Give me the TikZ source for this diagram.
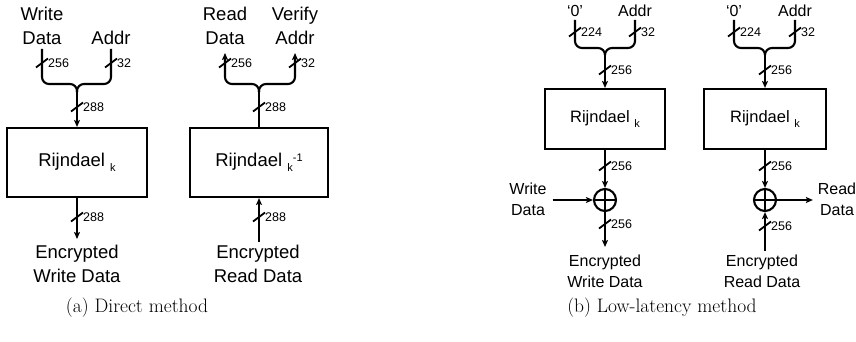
\documentclass[tikz,border=0pt]{standalone}
\usepackage{fontspec}
\newfontfamily\arial{Liberation Sans}
\usetikzlibrary{arrows.meta}

\tikzset{
  wire/.style={line width=2.1pt},
  sig/.style={wire, -{Stealth[length=7pt,width=6pt,inset=1.5pt]}},
  fork/.style={wire, rounded corners=7pt},
  lbl/.style={font=\arial\fontsize{18.5}{24.5}\selectfont, align=center, inner sep=0pt, outer sep=4pt},
  lblb/.style={font=\arial\fontsize{16}{21}\selectfont, align=center, inner sep=0pt, outer sep=4pt},
  block/.style={draw, line width=2.1pt, inner sep=0pt},
  xor/.style={circle, draw, line width=2.1pt, minimum size=22pt, inner sep=0pt},
  buswidth/.style={font=\arial\fontsize{12.5}{14}\selectfont, inner sep=0pt, anchor=west},
  caption/.style={font=\fontsize{19.5}{23}\selectfont, inner sep=0pt},
  busmark/.pic={\draw[line width=1.8pt] (-6,4.5) -- (6,-4.5); \node[buswidth] at (6,0) {#1};}
}
\newcommand{\keysub}[1]{\raisebox{-5pt}{\fontsize{11}{11}\selectfont #1}}
\newcommand{\keysup}[1]{\raisebox{5pt}{\fontsize{11}{11}\selectfont #1}}

\begin{document}
\begin{tikzpicture}[x=1pt,y=-1pt]
\useasboundingbox (0,0) rectangle (856,342);

% ---------------- (a) Direct method: write path ----------------
\node[lbl, anchor=south] (wdA) at (42,49) {Write\\Data};
\node[lbl, anchor=south] (adA) at (111,49) {Addr};
\coordinate (hA) at (77,84);
\coordinate (mA) at (77,92);
\node[block, minimum width=140pt, minimum height=69pt, font=\arial\fontsize{18.5}{22}\selectfont]
  (rA1) at (77,162.5) {Rijndael\ \keysub{k}};
\node[lbl, anchor=north, outer ysep=6pt] (encA) at (77,239) {Encrypted\\Write Data};

\draw[fork] (wdA.south) |- (hA) -- (mA);
\draw[fork] (adA.south) |- (hA) -- (mA);
\draw[sig] (mA) -- (rA1.north);
\draw[sig] (rA1.south) -- (encA.north);
\pic at (42,63) {busmark=256};
\pic at (111,63) {busmark=32};
\pic at (77,107) {busmark=288};
\pic at (77,217) {busmark=288};

% ---------------- (a) Direct method: read path ----------------
\node[lbl, anchor=south, outer ysep=8pt] (rdA) at (225,53) {Read\\Data};
\node[lbl, anchor=south, outer ysep=8pt] (vaA) at (295,53) {Verify\\Addr};
\coordinate (hA2) at (259,84);
\coordinate (mA2) at (259,92);
\node[block, minimum width=138pt, minimum height=69pt, font=\arial\fontsize{18.5}{22}\selectfont]
  (rA2) at (259,162.5) {Rijndael\ \keysub{k}\keysup{-1}};
\node[lbl, anchor=north, outer ysep=3pt] (encB) at (258,242) {Encrypted\\Read Data};

\draw[wire] (rA2.north) -- (mA2);
\draw[sig, rounded corners=7pt] (mA2) -- (hA2) -| (rdA.south);
\draw[sig, rounded corners=7pt] (mA2) -- (hA2) -| (vaA.south);
\draw[sig] (encB.north -| rA2.south) -- (rA2.south);
\pic at (225,63) {busmark=256};
\pic at (295,63) {busmark=32};
\pic at (259,107) {busmark=288};
\pic at (259,217) {busmark=288};

% ---------------- (b) Low-latency method: write path ----------------
\node[lblb, anchor=south, outer ysep=3pt] (zB1) at (575,20) {‘0’};
\node[lblb, anchor=south, outer ysep=3pt] (adB1) at (635,20) {Addr};
\coordinate (hB1) at (605,48);
\coordinate (mB1) at (605,55);
\node[block, minimum width=120pt, minimum height=60pt, font=\arial\fontsize{16.5}{20}\selectfont]
  (rB1) at (605,119) {Rijndael\ \keysub{k}};
\node[xor] (xB1) at (605,200) {};
\node[lblb, outer xsep=6pt] (wdB) at (528,199) {Write\\Data};
\node[lblb, anchor=north, outer ysep=8pt] (encC) at (605,247) {Encrypted\\Write Data};

\draw[fork] (zB1.south) |- (hB1) -- (mB1);
\draw[fork] (adB1.south) |- (hB1) -- (mB1);
\draw[sig] (mB1) -- (rB1.north);
\draw[sig] (rB1.south) -- (xB1.north);
\draw[sig] (wdB.east |- xB1.west) -- (xB1.west);
\draw[sig] (xB1.south) -- (encC.north);
\draw[wire] (xB1.north) -- (xB1.south) (xB1.west) -- (xB1.east);
\pic at (575,32) {busmark=224};
\pic at (635,32) {busmark=32};
\pic at (605,70) {busmark=256};
\pic at (605,166) {busmark=256};
\pic at (605,224) {busmark=256};

% ---------------- (b) Low-latency method: read path ----------------
\node[lblb, anchor=south, outer ysep=3pt] (zB2) at (734,20) {‘0’};
\node[lblb, anchor=south, outer ysep=3pt] (adB2) at (795,20) {Addr};
\coordinate (hB2) at (765,48);
\coordinate (mB2) at (765,55);
\node[block, minimum width=122pt, minimum height=60pt, font=\arial\fontsize{16.5}{20}\selectfont]
  (rB2) at (765,119) {Rijndael\ \keysub{k}};
\node[xor] (xB2) at (765,200) {};
\node[lblb, outer xsep=5pt] (rdB) at (837,199) {Read\\Data};
\node[lblb, anchor=north, outer ysep=4pt] (encD) at (762,251) {Encrypted\\Read Data};

\draw[fork] (zB2.south) |- (hB2) -- (mB2);
\draw[fork] (adB2.south) |- (hB2) -- (mB2);
\draw[sig] (mB2) -- (rB2.north);
\draw[sig] (rB2.south) -- (xB2.north);
\draw[sig] (xB2.east) -- (rdB.west |- xB2.east);
\draw[sig] (encD.north -| xB2.south) -- (xB2.south);
\draw[wire] (xB2.north) -- (xB2.south) (xB2.west) -- (xB2.east);
\pic at (734,32) {busmark=224};
\pic at (795,32) {busmark=32};
\pic at (765,70) {busmark=256};
\pic at (765,166) {busmark=256};
\pic at (765,226) {busmark=256};

% ---------------- captions ----------------
\node[caption] (capA) at (137,308) {(a) Direct method};
\node[caption] (capB) at (662,308) {(b) Low-latency method};
\end{tikzpicture}
\end{document}
